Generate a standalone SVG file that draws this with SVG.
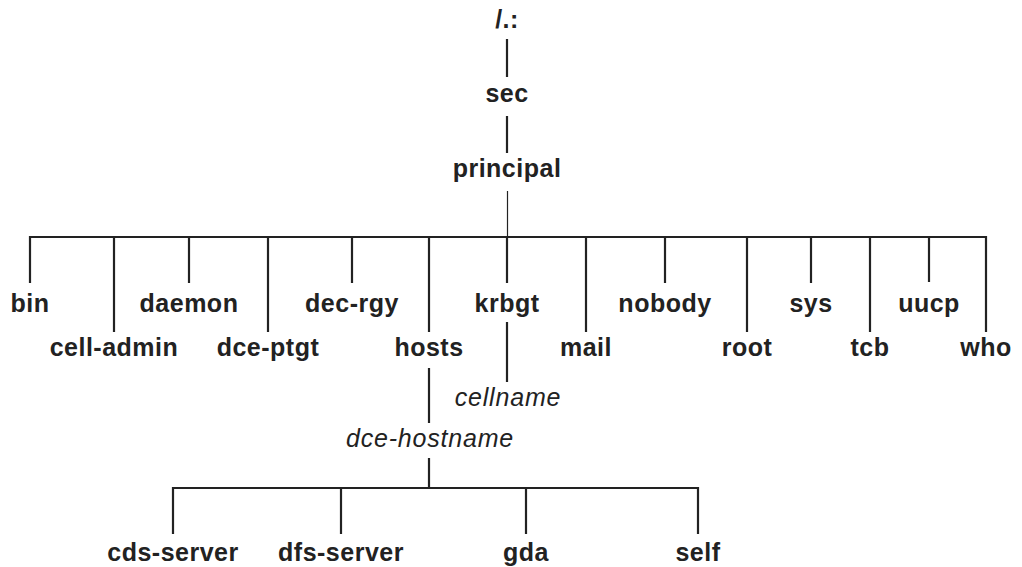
<svg xmlns="http://www.w3.org/2000/svg" width="1022" height="567" viewBox="0 0 1022 567">
<style>
text{font-family:"Liberation Sans",Arial,sans-serif;font-size:25px;fill:#222;text-anchor:middle}
.b{font-weight:bold;letter-spacing:0.5px}
.i{font-style:italic;font-size:25px;letter-spacing:0.8px}
.c line,.c polyline{stroke:#222;stroke-width:2.2;fill:none}
.c .thin{stroke-width:1.2}
</style>
<rect width="1022" height="567" fill="#fff"/>
<g class="c" id="connectors">
<line x1="507" y1="39" x2="507" y2="77"/>
<line x1="507" y1="116" x2="507" y2="153"/>
<line class="thin" x1="507.5" y1="191" x2="507.5" y2="237"/>
<polyline points="30,283 30,237 986,237 986,332"/>
<line x1="114" y1="237" x2="114" y2="332"/>
<line x1="189" y1="237" x2="189" y2="283"/>
<line x1="268" y1="237" x2="268" y2="332"/>
<line x1="352" y1="237" x2="352" y2="283"/>
<line x1="429" y1="237" x2="429" y2="332"/>
<line x1="507" y1="237" x2="507" y2="283"/>
<line x1="586" y1="237" x2="586" y2="332"/>
<line x1="665" y1="237" x2="665" y2="283"/>
<line x1="747" y1="237" x2="747" y2="332"/>
<line x1="811" y1="237" x2="811" y2="283"/>
<line x1="870" y1="237" x2="870" y2="332"/>
<line x1="929" y1="237" x2="929" y2="282"/>
<line x1="507" y1="322" x2="507" y2="382"/>
<line x1="429" y1="368" x2="429" y2="423"/>
<line x1="429" y1="458" x2="429" y2="488"/>
<polyline points="173,534 173,488 698,488 698,534"/>
<line x1="341" y1="488" x2="341" y2="534"/>
<line x1="526" y1="488" x2="526" y2="534"/>
</g>
<g id="root"><text class="b" x="507" y="28">/.:</text></g>
<g id="sec"><text class="b" x="507" y="102">sec</text></g>
<g id="principal"><text class="b" x="507" y="177">principal</text></g>
<g id="bin"><text class="b" x="30" y="312">bin</text></g>
<g id="daemon"><text class="b" x="189" y="312">daemon</text></g>
<g id="dec-rgy"><text class="b" x="352" y="312">dec-rgy</text></g>
<g id="krbgt"><text class="b" x="507" y="312">krbgt</text></g>
<g id="nobody"><text class="b" x="665" y="312">nobody</text></g>
<g id="sys"><text class="b" x="811" y="312">sys</text></g>
<g id="uucp"><text class="b" x="929" y="312">uucp</text></g>
<g id="cell-admin"><text class="b" x="114" y="356">cell-admin</text></g>
<g id="dce-ptgt"><text class="b" x="268" y="356">dce-ptgt</text></g>
<g id="hosts"><text class="b" x="429" y="356">hosts</text></g>
<g id="mail"><text class="b" x="586" y="356">mail</text></g>
<g id="root-user"><text class="b" x="747" y="356">root</text></g>
<g id="tcb"><text class="b" x="870" y="356">tcb</text></g>
<g id="who"><text class="b" x="986" y="356">who</text></g>
<g id="cellname"><text class="i" x="508" y="406">cellname</text></g>
<g id="dce-hostname"><text class="i" x="430" y="447">dce-hostname</text></g>
<g id="cds-server"><text class="b" x="173" y="561">cds-server</text></g>
<g id="dfs-server"><text class="b" x="341" y="561">dfs-server</text></g>
<g id="gda"><text class="b" x="526" y="561">gda</text></g>
<g id="self"><text class="b" x="698" y="561">self</text></g>
</svg>
